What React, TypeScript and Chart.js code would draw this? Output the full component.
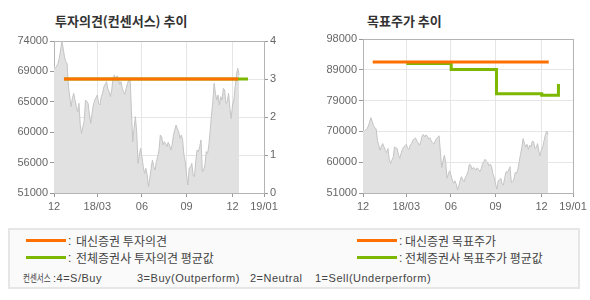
import React, { useEffect, useRef } from "react";
import { Chart, registerables } from "chart.js";

Chart.register(...registerables);

// ---- data ----
// daily closing price (trading-day index 0..141)
const closePrices = [
  70260, 69870, 70200, 70600, 71380, 72640, 74000, 72900, 71600, 70870,
  70600, 67090, 65570, 64060, 65330, 66090, 65070, 64060, 63300, 64570,
  61290, 60030, 61040, 61900, 65070, 64820, 64570, 62800, 61550, 63060,
  64320, 65070, 65420, 65830, 64570, 64320, 65570, 66090, 67090, 67450,
  67850, 66840, 66330, 65570, 66590, 68360, 68860, 68100, 68750, 68360,
  67450, 67850, 66840, 66330, 65940, 66840, 67600, 68100, 68450, 63300,
  58770, 60790, 62550, 60280, 55490, 56750, 57770, 56490, 54980, 53970,
  54730, 53720, 51950, 53220, 54730, 55990, 54980,
  54480, 55740, 56490, 57510, 59780, 59530, 58260, 58770, 58520, 58010,
  58670, 58260, 57510, 58260, 59780, 60530, 61290, 60680, 60280, 59270,
  59780, 59020, 56750, 55740, 53720, 52210, 54730, 54980, 55490, 53720,
  53470, 55740, 57510, 57260, 58010, 59020, 54220, 54480, 55240, 57260,
  57000, 58260, 60530, 62800, 64820, 67600, 66090, 65070, 65830, 64320,
  65570, 65070, 66840, 66590, 64570, 64820, 66090, 63810, 62300, 64320,
  65070, 67090, 68860, 69870, 68860,
];

// x axis (trading-day index of each month label)
const xTickPositions = [0, 33, 67, 101, 136, 160];
const xTickLabels = ["12", "18/03", "06", "09", "12", "19/01"];

// left chart axes
const opinionPriceTickLabels = ["51000", "56000", "60000", "65000", "69000", "74000"];
const opinionPriceMin = 51000;
const opinionPriceMax = 74000;
const opinionTickLabels = ["0", "1", "2", "3", "4"];

// right chart axes
const targetPriceTickLabels = ["51000", "60000", "70000", "79000", "89000", "98000"];
const targetPriceMin = 51000;
const targetPriceMax = 98000;

// investment opinion (4=S/Buy 3=Buy 2=Neutral 1=Sell)
const daishinOpinionX = [7.6, 140.3];
const daishinOpinionValues = [3, 3];
const consensusOpinionX = [7.6, 147.8];
const consensusOpinionValues = [3, 3];

// target price
const daishinTargetX = [7.4, 141.5];
const daishinTargetValues = [91000, 91000];
const consensusTargetX = [33, 67.2, 101.7, 136.2, 148.9];
const consensusTargetValues = [90500, 88700, 81300, 80800, 84300];

// ---- styles ----
const ORANGE = "#ff7000";
const GREEN = "#7cb800";
const TICK_FONT = { family: "'Liberation Sans', Arial, sans-serif", size: 11 };
const TICK_COLOR = "#666";

const pairs = (xs: number[], ys: number[]) => xs.map((x, i) => ({ x, y: ys[i] }));

const align = (p: number) => Math.round(p - 0.5) + 0.5;

const boxPlugin = {
  id: "plotBox",
  beforeDatasetsDraw(chart: any) {
    const { ctx, chartArea: a } = chart;
    ctx.save();
    ctx.strokeStyle = "#b4b4b4";
    ctx.lineWidth = 1;
    const l = align(a.left), r = align(a.right), t = align(a.top), b = align(a.bottom);
    ctx.strokeRect(l, t, r - l, b - t);
    ctx.restore();
  },
};

function xScale() {
  return {
    type: "linear",
    min: xTickPositions[0],
    max: xTickPositions[xTickPositions.length - 1],
    afterBuildTicks: (s: any) => {
      s.ticks = xTickPositions.map((v) => ({ value: v }));
    },
    afterFit: (s: any) => {
      s.height = 22;
    },
    ticks: {
      autoSkip: false,
      maxRotation: 0,
      minRotation: 0,
      padding: 3,
      color: TICK_COLOR,
      font: TICK_FONT,
      callback: (_v: any, i: number) => xTickLabels[i],
    },
    grid: { color: "#e6e6e6", tickColor: "#999", tickLength: 4 },
    border: { display: false },
  };
}

function priceScale(labels: string[], min: number, max: number, width: number, gridOnArea: boolean) {
  return {
    type: "linear",
    position: "left",
    min,
    max,
    afterBuildTicks: (s: any) => {
      s.ticks = labels.map((_, i) => ({ value: min + ((max - min) * i) / (labels.length - 1) }));
    },
    afterFit: (s: any) => {
      s.width = width;
    },
    ticks: {
      padding: 2,
      color: TICK_COLOR,
      font: TICK_FONT,
      callback: (_v: any, i: number) => labels[i],
    },
    grid: { drawOnChartArea: gridOnArea, color: "#e6e6e6", tickColor: "#999", tickLength: 4 },
    border: { display: false },
  };
}

function priceDataset(axis: string) {
  return {
    type: "line",
    data: closePrices.map((y, i) => ({ x: i, y })),
    yAxisID: axis,
    borderColor: "#c4c4c4",
    borderWidth: 1,
    backgroundColor: "#e1e1e1",
    fill: "start",
    pointRadius: 0,
    tension: 0,
    order: 3,
  };
}

function lineDataset(data: any[], color: string, axis: string, order: number, stepped: any = false) {
  return {
    type: "line",
    data,
    yAxisID: axis,
    borderColor: color,
    borderWidth: 3,
    borderCapStyle: "butt",
    fill: false,
    pointRadius: 0,
    stepped,
    order,
  };
}

function useChart(build: () => any) {
  const ref = useRef<HTMLCanvasElement | null>(null);
  useEffect(() => {
    if (!ref.current) return;
    const chart = new Chart(ref.current, build());
    return () => chart.destroy();
  }, []);
  return ref;
}

function OpinionChart() {
  const ref = useChart(() => ({
    type: "line",
    data: {
      datasets: [
        lineDataset(pairs(daishinOpinionX, daishinOpinionValues), ORANGE, "y1", 1),
        lineDataset(pairs(consensusOpinionX, consensusOpinionValues), GREEN, "y1", 2),
        priceDataset("y"),
      ],
    },
    options: {
      animation: false,
      responsive: false,
      events: [],
      layout: { padding: { top: 41, left: 0, right: 0, bottom: 0 } },
      plugins: { legend: { display: false }, tooltip: { enabled: false } },
      scales: {
        x: xScale(),
        y: priceScale(opinionPriceTickLabels, opinionPriceMin, opinionPriceMax, 54, false),
        y1: {
          type: "linear",
          position: "right",
          min: 0,
          max: opinionTickLabels.length - 1,
          afterBuildTicks: (s: any) => {
            s.ticks = opinionTickLabels.map((_, i) => ({ value: i }));
          },
          afterFit: (s: any) => {
            s.width = 36;
          },
          ticks: {
            padding: 2,
            color: TICK_COLOR,
            font: TICK_FONT,
            callback: (_v: any, i: number) => opinionTickLabels[i],
          },
          grid: { color: "#e6e6e6", tickColor: "#999", tickLength: 4 },
          border: { display: false },
        },
      },
    },
    plugins: [boxPlugin],
  }));
  return <canvas ref={ref} width={300} height={215} style={{ width: 300, height: 215, display: "block" }} />;
}

function TargetChart() {
  const ref = useChart(() => ({
    type: "line",
    data: {
      datasets: [
        lineDataset(pairs(daishinTargetX, daishinTargetValues), ORANGE, "y", 1),
        lineDataset(pairs(consensusTargetX, consensusTargetValues), GREEN, "y", 2, "before"),
        priceDataset("y"),
      ],
    },
    options: {
      animation: false,
      responsive: false,
      events: [],
      layout: { padding: { top: 39, left: 0, right: 17, bottom: 0 } },
      plugins: { legend: { display: false }, tooltip: { enabled: false } },
      scales: {
        x: xScale(),
        y: priceScale(targetPriceTickLabels, targetPriceMin, targetPriceMax, 63, true),
      },
    },
    plugins: [boxPlugin],
  }));
  return <canvas ref={ref} width={290} height={215} style={{ width: 290, height: 215, display: "block" }} />;
}

const KR = "'Noto Sans CJK KR', 'Noto Sans', sans-serif";
const LAT = "'Liberation Sans', Arial, sans-serif";

const abs = (left: number, top: number, extra: React.CSSProperties = {}): React.CSSProperties => ({
  position: "absolute",
  left,
  top,
  whiteSpace: "nowrap",
  ...extra,
});

function LegendRow({ x, y, color, colonX, textX, text }: any) {
  return (
    <>
      <div style={abs(x, y - 1.5, { width: 40, height: 3, background: color })} />
      <div style={abs(colonX, y - 8, { fontSize: 12, lineHeight: "16px", color: "#444", fontFamily: LAT })}>:</div>
      <div style={abs(textX, y - 8, { fontSize: 12, lineHeight: "16px", color: "#444", fontFamily: KR })}>{text}</div>
    </>
  );
}

export default function App() {
  const row3: React.CSSProperties = { fontSize: 11, lineHeight: "14px", color: "#444", fontFamily: LAT, letterSpacing: 0.5 };
  const title: React.CSSProperties = { fontSize: 13, lineHeight: "17px", fontWeight: 700, color: "#333", fontFamily: KR };
  return (
    <div style={{ position: "absolute", left: 0, top: 0, width: 590, height: 300, background: "#fff", overflow: "hidden" }}>
      <div style={abs(55, 12, title)}>투자의견(컨센서스) 추이</div>
      <div style={abs(367, 12, title)}>목표주가 추이</div>
      <div style={abs(0, 0)}>
        <OpinionChart />
      </div>
      <div style={abs(300, 0)}>
        <TargetChart />
      </div>
      <div
        style={abs(8, 228, {
          width: 572,
          height: 61,
          boxSizing: "border-box",
          border: "2px solid #e6e6e6",
          background: "#fafafa",
        })}
      />
      <LegendRow x={26} y={240.5} color={ORANGE} colonX={68} textX={76} text="대신증권 투자의견" />
      <LegendRow x={26} y={257.5} color={GREEN} colonX={68} textX={76} text="전체증권사 투자의견 평균값" />
      <LegendRow x={357} y={240.5} color={ORANGE} colonX={399} textX={405} text="대신증권 목표주가" />
      <LegendRow x={357} y={257.5} color={GREEN} colonX={399} textX={405} text="전체증권사 목표주가 평균값" />
      <div style={abs(23, 271, row3)}>
        <span
          style={{
            display: "inline-block",
            width: 30,
            fontFamily: KR,
            fontSize: 10,
            letterSpacing: 0,
            transform: "scaleX(0.75)",
            transformOrigin: "0 50%",
          }}
        >
          컨센서스
        </span>
        :4=S/Buy
      </div>
      <div style={abs(137, 271, row3)}>3=Buy(Outperform)</div>
      <div style={abs(250, 271, row3)}>2=Neutral</div>
      <div style={abs(315, 271, row3)}>1=Sell(Underperform)</div>
    </div>
  );
}
